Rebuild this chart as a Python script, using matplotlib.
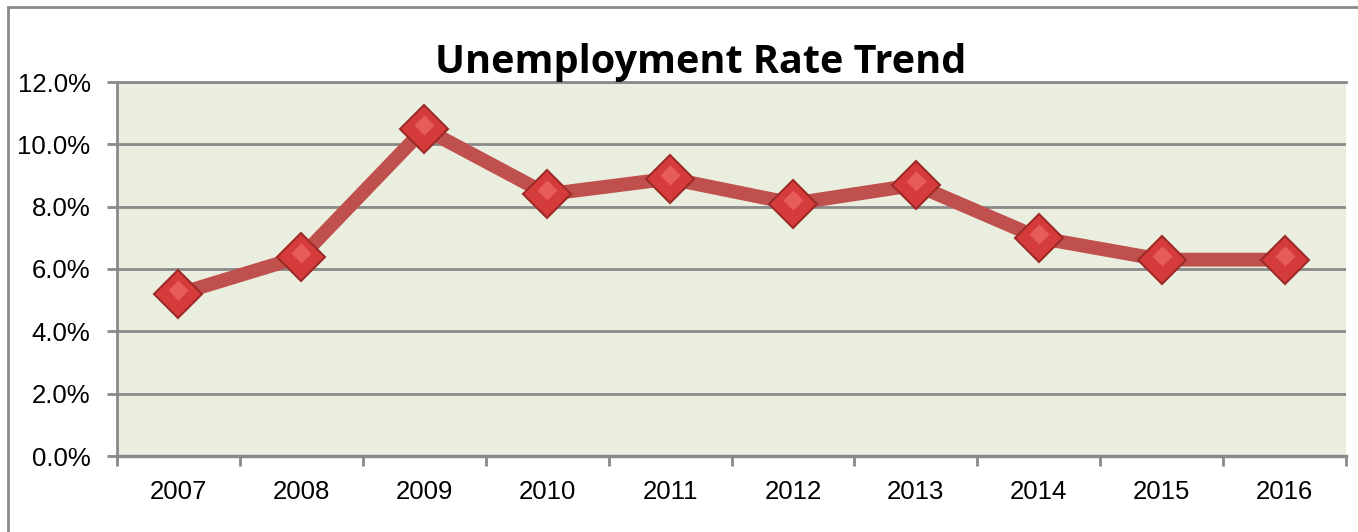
import matplotlib.pyplot as plt
import matplotlib.patches as patches
import numpy as np

years = ['2007', '2008', '2009', '2010', '2011', '2012', '2013', '2014', '2015', '2016']
rates = [5.2, 6.4, 10.5, 8.4, 8.9, 8.1, 8.7, 7.0, 6.3, 6.3]

plt.rcParams['font.family'] = ['Liberation Sans', 'DejaVu Sans']

fig = plt.figure(figsize=(13.58, 5.32), dpi=100)

# outer chart frame (runs off the right and bottom edges)
frame = patches.Rectangle((8 / 1358, -0.05), 1.2, 1 - 7 / 532 + 0.05,
                          transform=fig.transFigure, fill=False,
                          edgecolor='#8a8a8a', lw=2, zorder=0)
fig.patches.append(frame)

ax = fig.add_axes([117 / 1358, 1 - 456 / 532, (1346 - 117) / 1358, (456 - 82) / 532])
ax.set_facecolor('#eaeedf')

x = np.arange(len(years))
ax.plot(x, rates, color='#c0504d', lw=10, solid_capstyle='round', zorder=3)
ax.plot(x, rates, ls='none', marker='D', markersize=24,
        markerfacecolor='#d63b3b', markeredgecolor='#9c2a28', markeredgewidth=1.5, zorder=4)
# lighter top facet for a bit of bevel
ax.plot(x, np.array(rates) + 0.12, ls='none', marker='D', markersize=10,
        markerfacecolor='#e85b5b', markeredgecolor='none', zorder=5)

ax.set_xlim(-0.5, len(years) - 0.5)
ax.set_ylim(0, 12)

ax.set_yticks(np.arange(0, 12.1, 2))
ax.set_yticklabels([f'{v:.1f}%' for v in np.arange(0, 12.1, 2)], fontsize=18.5)
ax.tick_params(axis='y', length=7, width=2, color='#8a8a8a', pad=12)

ax.set_xticks(x)
ax.set_xticklabels(years, fontsize=18.5)
ax.set_xticks(np.arange(-0.5, len(years), 1), minor=True)
ax.tick_params(axis='x', which='major', length=0, pad=17)
ax.tick_params(axis='x', which='minor', length=7, width=2, color='#8a8a8a')

ax.grid(axis='y', color='#8a8a8a', lw=2, zorder=1)
ax.set_axisbelow(True)
ax.spines['right'].set_visible(False)
ax.spines['top'].set_color('#8a8a8a')
ax.spines['top'].set_linewidth(2)
ax.spines['left'].set_color('#8a8a8a')
ax.spines['left'].set_linewidth(2)
ax.spines['bottom'].set_color('#8a8a8a')
ax.spines['bottom'].set_linewidth(2.5)

fig.text(0.516, 1 - 63 / 532, 'Unemployment Rate Trend', ha='center', va='center',
         fontsize=28.5, fontweight='bold', family=['Open Sans', 'DejaVu Sans'])

plt.savefig('out.png', dpi=100)
